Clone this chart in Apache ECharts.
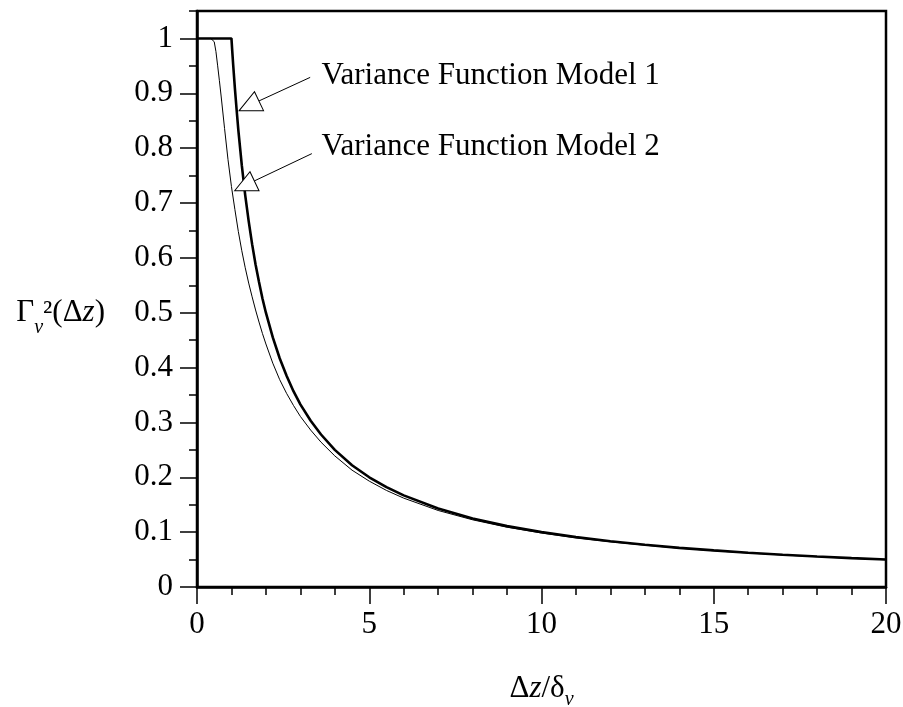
<!DOCTYPE html>
<html>
<head>
<meta charset="utf-8">
<script src="https://cdn.jsdelivr.net/npm/echarts@6/dist/echarts.min.js"></script>
<style>html,body{margin:0;padding:0;background:#fff;}#c{width:903px;height:707px;}</style>
</head>
<body>
<div id="c"></div>
<script>
// Model 1 (thick line)
const model1X = [0, 1, 1.02, 1.05, 1.1, 1.15, 1.2, 1.3, 1.4, 1.5, 1.6, 1.7, 1.8, 1.9, 2.0, 2.2, 2.4, 2.6, 2.8, 3.0, 3.3, 3.6, 4.0, 4.5, 5, 5.5, 6, 7, 8, 9, 10, 11, 12, 13, 14, 15, 16, 17, 18, 19, 20];
const model1Y = [1, 1, 0.980, 0.952, 0.909, 0.870, 0.833, 0.769, 0.714, 0.667, 0.625, 0.588, 0.556, 0.526, 0.5, 0.455, 0.417, 0.385, 0.357, 0.333, 0.303, 0.278, 0.25, 0.222, 0.2, 0.182, 0.167, 0.143, 0.125, 0.111, 0.1, 0.0909, 0.0833, 0.0769, 0.0714, 0.0667, 0.0625, 0.0588, 0.0556, 0.0526, 0.05];
// Model 2 (thin line)
const model2X = [0, 0.4, 0.45, 0.5, 0.55, 0.6, 0.65, 0.7, 0.8, 0.9, 1.0, 1.1, 1.2, 1.3, 1.4, 1.5, 1.6, 1.7, 1.8, 1.9, 2.0, 2.2, 2.4, 2.6, 2.8, 3.0, 3.3, 3.6, 4.0, 4.5, 5.0, 5.5, 6.0, 7.0, 8.0, 9.0, 10, 11, 12, 13, 14, 15, 16, 17, 18, 19, 20];
const model2Y = [1, 1, 0.999, 0.994, 0.976, 0.95, 0.923, 0.895, 0.836, 0.779, 0.73, 0.688, 0.648, 0.613, 0.582, 0.554, 0.529, 0.505, 0.483, 0.462, 0.443, 0.408, 0.378, 0.353, 0.331, 0.311, 0.286, 0.264, 0.239, 0.213, 0.193, 0.176, 0.162, 0.1395, 0.1225, 0.109, 0.0985, 0.0897, 0.0824, 0.0762, 0.0708, 0.0661, 0.062, 0.0584, 0.0552, 0.0523, 0.0497];
// Axis ticks
const yMajorTicks = [0, 0.1, 0.2, 0.3, 0.4, 0.5, 0.6, 0.7, 0.8, 0.9, 1];
const yMinorTicks = [0.05, 0.15, 0.25, 0.35, 0.45, 0.55, 0.65, 0.75, 0.85, 0.95, 1.05];
const xMin = 0, xMax = 20, xInterval = 5;
const yMin = 0, yMax = 1.05;
// Annotations (data coordinates)
const annoLabels = ['Variance Function Model 1', 'Variance Function Model 2'];
const annoTextPos = [[3.60, 0.932], [3.60, 0.802]];
const annoLineStart = [[3.285, 0.929], [3.334, 0.790]];
const annoLineEnd = [[1.797, 0.886], [1.657, 0.740]];
const annoHeadPos = [[1.512, 0.877], [1.381, 0.731]];

const FONT = "'Liberation Serif', 'Times New Roman', serif";
const FS = 31;
const zip = (a, b) => a.map((v, i) => [v, b[i]]);

const chart = echarts.init(document.getElementById('c'), null, {renderer: 'canvas'});
const axisLineStyle = {color: '#000', width: 2.5};
chart.setOption({
  animation: false,
  backgroundColor: '#fff',
  grid: {left: 197, right: 17, top: 11, bottom: 120, containLabel: false, outerBoundsMode: 'none', show: true, borderColor: '#000', borderWidth: 2.5, backgroundColor: 'transparent'},
  xAxis: {
    type: 'value', min: xMin, max: xMax, interval: xInterval,
    axisLine: {show: true, onZero: false, lineStyle: axisLineStyle},
    axisTick: {show: true, inside: false, length: 17, lineStyle: {color: '#000', width: 1.5}},
    minorTick: {show: true, splitNumber: 5, length: 8, lineStyle: {color: '#000', width: 1.5}},
    splitLine: {show: false}, minorSplitLine: {show: false},
    axisLabel: {color: '#000', fontSize: FS, fontFamily: FONT, margin: 22},
    name: '{n|Δ}{i|z}{n|/δ}{sub|v}',
    nameLocation: 'middle', nameGap: 86,
    nameTextStyle: {
      rich: {
        n: {fontSize: FS, fontFamily: FONT, color: '#000'},
        i: {fontSize: FS, fontFamily: FONT, fontStyle: 'italic', color: '#000'},
        sub: {fontSize: 20, fontFamily: FONT, fontStyle: 'italic', color: '#000', lineHeight: 20, padding: [22, 0, 0, 0]}
      }
    }
  },
  yAxis: [{
    type: 'value', min: yMin, max: yMax,
    axisLine: {show: true, onZero: false, lineStyle: axisLineStyle},
    axisTick: {show: true, inside: false, length: 17, customValues: yMajorTicks, lineStyle: {color: '#000', width: 1.5}},
    splitLine: {show: false},
    axisLabel: {color: '#000', fontSize: FS, fontFamily: FONT, margin: 24, customValues: yMajorTicks, formatter: v => String(v)},
    name: '{g|Γ}{sub|v}{n|²(Δ}{i|z}{n|)}',
    nameLocation: 'middle', nameRotate: 0, nameGap: 92,
    nameTextStyle: {
      align: 'right',
      padding: [28, 0, 0, 0],
      rich: {
        g: {fontSize: FS, fontFamily: FONT, color: '#000'},
        n: {fontSize: FS, fontFamily: FONT, color: '#000'},
        i: {fontSize: FS, fontFamily: FONT, fontStyle: 'italic', color: '#000'},
        sub: {fontSize: 20, fontFamily: FONT, fontStyle: 'italic', color: '#000', lineHeight: 20, padding: [30, 0, 0, 0]}
      }
    }
  }, {
    type: 'value', min: yMin, max: yMax, position: 'left',
    axisLine: {show: false},
    axisTick: {show: true, inside: false, length: 8, customValues: yMinorTicks, lineStyle: {color: '#000', width: 1.5}},
    axisLabel: {show: false},
    splitLine: {show: false}
  }],
  series: [{
    name: 'Model 2', type: 'line', data: zip(model2X, model2Y), showSymbol: false, symbol: 'none',
    lineStyle: {color: '#000', width: 1}, z: 3
  }, {
    name: 'Model 1', type: 'line', data: zip(model1X, model1Y), showSymbol: false, symbol: 'none',
    lineStyle: {color: '#000', width: 2.6}, z: 2,
    markLine: {
      silent: true, symbol: ['none', 'none'], animation: false,
      label: {show: false},
      lineStyle: {color: '#000', width: 1, type: 'solid'},
      data: annoLineStart.map((s, i) => [{coord: s}, {coord: annoLineEnd[i]}])
    },
    markPoint: {
      silent: true, animation: false,
      data: annoHeadPos.map(p => ({
        coord: p, symbol: 'triangle', symbolSize: [21, 22], symbolRotate: 115.5,
        itemStyle: {color: '#fff', borderColor: '#000', borderWidth: 1},
        label: {show: false}
      })).concat(annoTextPos.map((p, i) => ({
        coord: p, symbol: 'circle', symbolSize: 1,
        itemStyle: {color: 'rgba(0,0,0,0)'},
        label: {show: true, position: 'right', distance: 0, formatter: annoLabels[i], color: '#000', fontSize: FS, fontFamily: FONT}
      })))
    }
  }]
});
</script>
</body>
</html>
